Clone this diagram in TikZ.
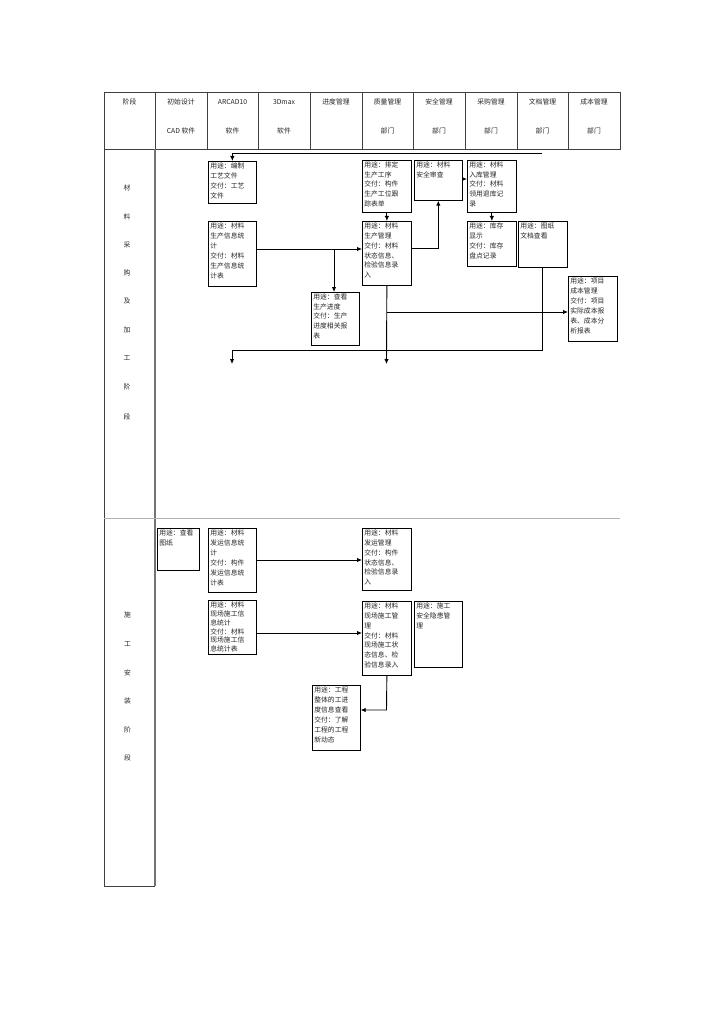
\documentclass[tikz,border=0pt]{standalone}
\usepackage{fontspec}
\setmainfont{Noto Sans CJK SC}
\usetikzlibrary{arrows.meta,shadows,calc}
\newcommand{\mybox}[7]{%
  \node[pbox,anchor=north west] (#1) at (#2,#3)
  {\parbox[c][\dimexpr#5pt-3pt\relax][t]{\dimexpr#4pt-4pt\relax}{\fontsize{6.8pt}{#6pt}\selectfont #7}};}
\tikzset{
  pbox/.style={draw=black,line width=0.7pt,fill=white,inner xsep=2pt,inner ysep=1.5pt,
    text=black!85,drop shadow={shadow xshift=0.7pt,shadow yshift=-0.7pt,fill=black!30,opacity=1}},
  arr/.style={draw=black,line width=0.9pt,-{Latex[length=5pt,width=4.5pt]}},
  ln/.style={draw=black,line width=0.9pt},
  hdr/.style={draw=black!75,line width=0.6pt},
  htext/.style={font=\fontsize{6.8pt}{8pt}\selectfont,text=black!85,inner sep=0pt},
  plabel/.style={font=\fontsize{6.8pt}{8pt}\selectfont,text=black!85,inner sep=0pt}
}
\begin{document}
\begin{tikzpicture}[x=1pt,y=-1pt]
\fill[white] (0,0) rectangle (724,1024);
\useasboundingbox (0,0) rectangle (724,1024);
% header row
\foreach \xa/\xb/\ta/\tb [count=\i] in {104/155/阶段/{},155/207/初始设计/CAD 软件,207/258/ARCAD10/软件,258/310/3Dmax/软件,310/362/进度管理/{},362/413/质量管理/部门,413/465/安全管理/部门,465/517/采购管理/部门,517/568/文档管理/部门,568/620/成本管理/部门}{
  \draw[hdr] (\xa,92) rectangle (\xb,149);
  \node[htext] (ha\i) at ({(\xa+\xb)/2},102) {\ta};
  \node[htext] (hb\i) at ({(\xa+\xb)/2},131) {\tb};
}
% body frame
\draw[draw=black!75,line width=0.7pt] (104,149) -- (104,886) -- (155,886);
\draw[draw=black!55,line width=1.1pt] (155,149) -- (155,886);
\draw[draw=black!30,line width=0.7pt] (104,518) -- (620,518);
% phase labels
\foreach \c/\y [count=\i] in {材/188,料/217,采/245,购/273,及/301,加/330,工/358,阶/387,段/417}{
  \node[plabel] (pa\i) at (127,\y) {\c};
}
\foreach \c/\y [count=\i] in {施/615,工/644,安/673,装/701,阶/730,段/758}{
  \node[plabel] (pb\i) at (127.5,\y) {\c};
}
% phase 1 boxes
\mybox{B1}{208}{161}{48}{42}{10}{用途：编制\\工艺文件\\交付：工艺\\文件}
\mybox{B2}{208}{221}{48}{65}{10}{用途：材料\\生产信息统\\计\\交付：材料\\生产信息统\\计表}
\mybox{B3}{362}{160}{49}{52}{9.6}{用途：排定\\生产工序\\交付：构件\\生产工位跟\\踪表单}
\mybox{B4}{362}{221}{49}{64}{9.8}{用途：材料\\生产管理\\交付：材料\\状态信息、\\检验信息录\\入}
\mybox{B5}{414}{160}{48}{40}{10}{用途：材料\\安全审查}
\mybox{B6}{467}{160}{49}{52}{9.6}{用途：材料\\入库管理\\交付：材料\\领用退库记\\录}
\mybox{B7}{467}{221}{49}{45}{10}{用途：库存\\显示\\交付：库存\\盘点记录}
\mybox{B8}{518}{221}{49}{46}{10}{用途：图纸\\文档查看}
\mybox{B9}{311}{292}{48}{53}{9.6}{用途：查看\\生产进度\\交付：生产\\进度相关报\\表}
\mybox{B10}{568}{276}{49}{65}{10}{用途：项目\\成本管理\\交付：项目\\实际成本报\\表、成本分\\析报表}
% phase 2 boxes
\mybox{C1}{157}{528}{42}{42}{10}{用途：查看\\图纸}
\mybox{C2}{208}{528}{48}{64}{10}{用途：材料\\发运信息统\\计\\交付：构件\\发运信息统\\计表}
\mybox{C3}{362}{528}{49}{62}{9.8}{用途：材料\\发运管理\\交付：构件\\状态信息、\\检验信息录\\入}
\mybox{C4}{208}{600}{48}{54}{8.8}{用途：材料\\现场施工信\\息统计\\交付：材料\\现场施工信\\息统计表}
\mybox{C5}{362}{601}{49}{74}{9.8}{用途：材料\\现场施工管\\理\\交付：材料\\现场施工状\\态信息、检\\验信息录入}
\mybox{C6}{312}{685}{48}{65}{10}{用途：工程\\整体的工进\\度信息查看\\交付：了解\\工程的工程\\新动态}
\mybox{C7}{414}{601}{48}{66}{10}{用途：施工\\安全隐患管\\理}
% phase 1 connectors
\coordinate (s1) at (542,153);
\draw[arr] (s1) -| (B1.north);
\draw[arr] ([yshift=-28pt]B2.north east) -- ([yshift=-28pt]B4.north west);
\coordinate (j1) at (334,249);
\draw[arr] (j1) -- (j1 |- B9.north);
\draw[arr] (B3.south) -- (B4.north);
\draw[arr] ([yshift=-27pt]B4.north east) -| (B5.south);
\draw[arr] ([yshift=-19pt]B5.north east) -- ([yshift=-19pt]B6.north west);
\draw[arr] (B6.south) -- (B7.north);
\coordinate (c2) at (232,350);
\coordinate (e2) at (232,364);
\draw[arr] (B8.south) |- (c2) -- (e2);
\coordinate (e3) at (386.5,364);
\draw[arr] (B4.south) -- (e3);
\coordinate (j2) at (386.5,312);
\draw[arr] (j2) -- (j2 -| B10.west);
% phase 2 connectors
\draw[arr] ([yshift=-32pt]C2.north east) -- ([yshift=-32pt]C3.north west);
\draw[arr] ([yshift=-33pt]C4.north east) -- ([yshift=-32pt]C5.north west);
\coordinate (c5) at (386.5,710);
\draw[arr] (C5.south) -- (c5) -- (c5 -| C6.east);
\end{tikzpicture}
\end{document}
